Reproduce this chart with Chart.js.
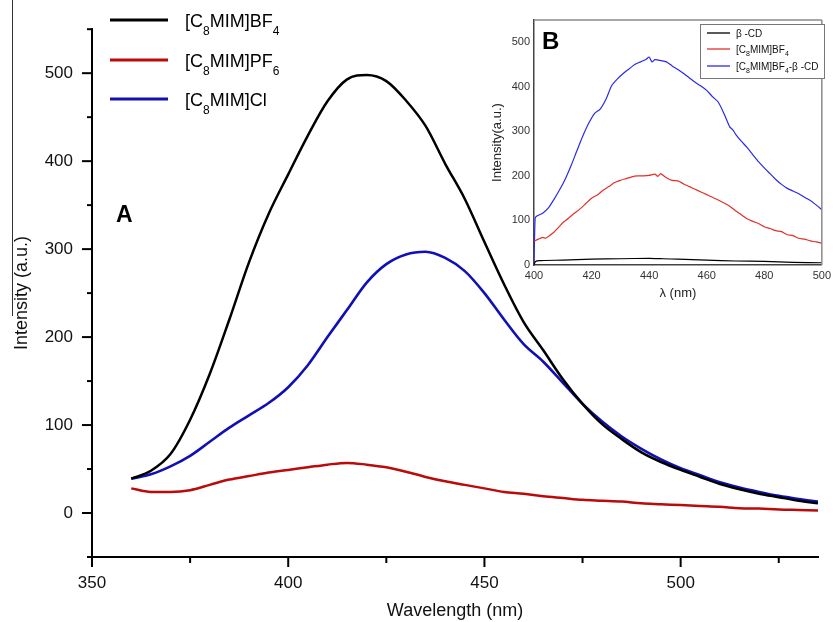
<!DOCTYPE html>
<html><head><meta charset="utf-8">
<script src="https://cdn.jsdelivr.net/npm/chart.js@4.4.1/dist/chart.umd.min.js"></script>
<style>
html,body{margin:0;padding:0;background:#fff;}
#wrap{position:relative;width:835px;height:622px;overflow:hidden;background:#fff;}
#main{position:absolute;left:0;top:0;}
#inset{position:absolute;left:480px;top:0;}
</style></head><body>
<div id="wrap"><canvas id="main" width="835" height="622"></canvas><canvas id="inset" width="355" height="305"></canvas></div>
<script>
// ---------- Main chart (A) data ----------
const wavelengths = [360,365,370,375,380,385,390,395,400,405,410,415,420,425,430,435,440,445,450,455,460,465,470,475,480,485,490,495,500,505,510,515,520,525,530,535];
const bf4Values = [39,48,67,106,158,220,285,340,385,429,468,493,498,491,469,440,397,357,308,260,217,185,152,124,101,84,69,58,49,41,33,27,22,18,14,11];
const pf6Values = [28,24,24,26,32,38,42,46,49,52,55,57,55,52,47,41,36,32,28,24,22,19,17,15,14,13,11,10,9,8,7,5.5,5,4,3.5,3];
const clValues  = [39,44,53,65,81,97,111,125,143,168,200,231,262,283,294,297,290,275,250,220,192,172,148,124,104,87,73,61,51,43,35,29,24,19.5,16,13];
const mainSeriesNames = ['[C_{8}MIM]BF_{4}','[C_{8}MIM]PF_{6}','[C_{8}MIM]Cl'];
const mainColors = ['#000000','#bb0a0a','#1010b4'];
const xMajorTicks = [350,400,450,500];
const xMinorTicks = [375,425,475,525];
const yMajorTicks = [0,100,200,300,400,500];
const yMinorTicks = [-50,50,150,250,350,450,550];

// ---------- Inset chart (B) data ----------
const insetBlueX = [400,400.4,401,403,405,407,409,411,413,415,417,419,421,423,425,427,429,431,433,435,437,439,440,441,442,444,446,448,450,452,454,456,458,460,462,464,466,468,469,470,472,474,476,478,480,482,484,486,488,490,492,494,496,498,500];
const insetBlueY = [0,105,110,116,128,148,170,195,225,258,290,318,340,350,372,403,418,430,440,450,456,462,467,456,461,459,456,447,439,430,420,410,402,392,378,366,340,310,304,294,278,264,248,232,218,205,192,181,172,166,160,152,145,135,124];
const insetRedX = [400,401.5,403,404,405,407,409,410,412,414,416,418,420,422,424,426,428,430,432,434,436,438,440,442,443,444,446,448,450,452,454,456,458,460,462,464,466,468,470,472,474,476,478,480,482,484,486,488,490,492,494,496,498,500];
const insetRedY = [53,58,62,60,64,74,88,95,105,116,126,138,150,157,168,176,185,190,194,198,200,200,201,204,199,205,196,190,189,182,176,170,164,158,152,146,139,132,122,113,104,98,93,86,82,77,75,68,66,60,58,54,52,49];
const insetBlackX = [400,400.5,402,410,420,430,440,445,450,460,470,480,490,500];
const insetBlackY = [0,8,10,11,13,14,15,14,13,11,9,8,6,5];
const insetSeriesNames = ['β -CD','[C_{8}MIM]BF_{4}','[C_{8}MIM]BF_{4}-β -CD'];
const insetColors = ['#000000','#e0302a','#2a2ae6'];
const insetXTicks = [400,420,440,460,480,500];
const insetYTicks = [0,100,200,300,400,500];

const FONT = '"Liberation Sans", Arial, sans-serif';
Chart.defaults.font.family = FONT;

function pairs(xs, ys){ return xs.map((x,i)=>({x:x, y:ys[i]})); }

// draw text with _{sub} subscripts
function drawSubText(ctx, text, x, y, size, subSize, subDrop, color){
  const parts = [];
  const re = /_\{([^}]*)\}/g; let last = 0, m;
  while ((m = re.exec(text))){ if (m.index>last) parts.push([text.slice(last,m.index),0]); parts.push([m[1],1]); last = re.lastIndex; }
  if (last < text.length) parts.push([text.slice(last),0]);
  ctx.fillStyle = color; ctx.textBaseline = 'alphabetic'; ctx.textAlign = 'left';
  let cx = x;
  for (const [t,sub] of parts){
    ctx.font = (sub?subSize:size) + 'px ' + FONT;
    ctx.fillText(t, cx, sub ? y + subDrop : y);
    cx += ctx.measureText(t).width;
  }
}

const mainDeco = {
  id:'mainDeco',
  afterDraw(chart){
    const ctx = chart.ctx, xs = chart.scales.x, ys = chart.scales.y, ca = chart.chartArea;
    ctx.save();
    ctx.strokeStyle = '#000'; ctx.lineWidth = 2; ctx.lineCap = 'butt';
    const ln = (x1,y1,x2,y2)=>{ctx.beginPath();ctx.moveTo(x1,y1);ctx.lineTo(x2,y2);ctx.stroke();};
    yMajorTicks.forEach(v=>{const y=ys.getPixelForValue(v); ln(ca.left-10,y,ca.left+1,y);});
    yMinorTicks.forEach(v=>{const y=ys.getPixelForValue(v); ln(ca.left-5,y,ca.left+1,y);});
    xMajorTicks.forEach(v=>{const x=xs.getPixelForValue(v); ln(x,ca.bottom-1,x,ca.bottom+10);});
    xMinorTicks.forEach(v=>{const x=xs.getPixelForValue(v); ln(x,ca.bottom-1,x,ca.bottom+6);});
    // thin stray rule next to the y title (present in the original figure)
    ctx.lineWidth = 1; ctx.strokeStyle = '#333'; ln(12.5,0,12.5,316);
    // panel letter
    ctx.fillStyle = '#000'; ctx.font = 'bold 23px ' + FONT; ctx.textBaseline='alphabetic'; ctx.textAlign='left';
    ctx.fillText('A', 116, 222);
    // legend
    const rows = [20,60,99];
    chart.data.datasets.forEach((ds,i)=>{
      ctx.strokeStyle = ds.borderColor; ctx.lineWidth = 3;
      ln(110, rows[i], 168, rows[i]);
      drawSubText(ctx, mainSeriesNames[i], 185, rows[i]+6.5, 18, 12, 8, '#000');
    });
    ctx.restore();
  }
};

new Chart(document.getElementById('main'), {
  type:'line',
  data:{ datasets:[
    {label:'BF4', data:pairs(wavelengths,bf4Values), borderColor:mainColors[0], borderWidth:2.5, order:1},
    {label:'PF6', data:pairs(wavelengths,pf6Values), borderColor:mainColors[1], borderWidth:2.5, order:3},
    {label:'Cl',  data:pairs(wavelengths,clValues),  borderColor:mainColors[2], borderWidth:2.6, order:2}
  ]},
  options:{
    responsive:false, animation:false, devicePixelRatio:1,
    elements:{point:{radius:0}, line:{cubicInterpolationMode:'monotone', fill:false}},
    layout:{padding:{top:19,right:17,left:0,bottom:0}},
    plugins:{legend:{display:false}, tooltip:{enabled:false}},
    scales:{
      x:{type:'linear', position:'bottom', min:350, max:535,
        afterFit:s=>{s.height=65;},
        afterBuildTicks:s=>{s.ticks = xMajorTicks.map(v=>({value:v}));},
        grid:{display:false, drawTicks:false},
        border:{display:true, color:'#000', width:2},
        ticks:{font:{size:17}, color:'#111', padding:16, maxRotation:0, autoSkip:false},
        title:{display:true, text:'Wavelength (nm)', font:{size:18}, color:'#111', padding:{top:0,bottom:0}}
      },
      y:{type:'linear', min:-50, max:550,
        afterFit:s=>{s.width=92;},
        afterBuildTicks:s=>{s.ticks = yMajorTicks.map(v=>({value:v}));},
        grid:{display:false, drawTicks:false},
        border:{display:true, color:'#000', width:2},
        ticks:{font:{size:17}, color:'#111', padding:19},
        title:{display:true, text:'Intensity (a.u.)', font:{size:18}, color:'#111', padding:{top:11,bottom:0}}
      }
    }
  },
  plugins:[mainDeco]
});

const insetDeco = {
  id:'insetDeco',
  afterDraw(chart){
    const ctx = chart.ctx, ca = chart.chartArea;
    ctx.save();
    const ln = (x1,y1,x2,y2)=>{ctx.beginPath();ctx.moveTo(x1,y1);ctx.lineTo(x2,y2);ctx.stroke();};
    ctx.strokeStyle = '#8a8a8a'; ctx.lineWidth = 1.5;
    ln(ca.left, ca.top, ca.right, ca.top);
    ln(ca.right, ca.top, ca.right, ca.bottom);
    ctx.fillStyle='#000'; ctx.font='bold 24px ' + FONT; ctx.textBaseline='alphabetic'; ctx.textAlign='left';
    ctx.fillText('B', 62, 49);
    // legend box
    const bx = 220, by = 24, bw = 124, bh = 54;
    ctx.fillStyle='#fff'; ctx.fillRect(bx,by,bw,bh);
    ctx.strokeStyle='#777'; ctx.lineWidth=1; ctx.strokeRect(bx+0.5,by+0.5,bw,bh);
    const rows = [33,49,66];
    chart.data.datasets.forEach((ds,i)=>{
      ctx.strokeStyle = ds.borderColor; ctx.lineWidth = 1.3;
      ln(bx+7, rows[i], bx+30, rows[i]);
      drawSubText(ctx, insetSeriesNames[i], bx+36, rows[i]+3.5, 10, 7, 3, '#111');
    });
    ctx.restore();
  }
};

new Chart(document.getElementById('inset'), {
  type:'line',
  data:{ datasets:[
    {label:'b-CD', data:pairs(insetBlackX,insetBlackY), borderColor:insetColors[0], borderWidth:1.2},
    {label:'BF4', data:pairs(insetRedX,insetRedY), borderColor:insetColors[1], borderWidth:1.2},
    {label:'BF4-b-CD', data:pairs(insetBlueX,insetBlueY), borderColor:insetColors[2], borderWidth:1.2}
  ]},
  options:{
    responsive:false, animation:false, devicePixelRatio:1,
    elements:{point:{radius:0}, line:{tension:0.2, fill:false}},
    layout:{padding:{top:20,right:9,left:0,bottom:0}},
    plugins:{legend:{display:false}, tooltip:{enabled:false}},
    scales:{
      x:{type:'linear', min:400, max:500,
        afterFit:s=>{s.height=40;},
        afterBuildTicks:s=>{s.ticks = insetXTicks.map(v=>({value:v}));},
        grid:{display:false, drawTicks:false},
        border:{display:true, color:'#444', width:1.5},
        ticks:{font:{size:11}, color:'#333', padding:4, maxRotation:0, autoSkip:false},
        title:{display:true, text:'λ (nm)', font:{size:13}, color:'#222', padding:{top:0,bottom:4}}
      },
      y:{type:'linear', min:0, max:550,
        afterFit:s=>{s.width=54;},
        afterBuildTicks:s=>{s.ticks = insetYTicks.map(v=>({value:v}));},
        grid:{display:false, drawTicks:false},
        border:{display:true, color:'#444', width:1.5},
        ticks:{font:{size:11}, color:'#333', padding:4},
        title:{display:true, text:'Intensity(a.u.)', font:{size:13}, color:'#222', padding:{top:10,bottom:0}}
      }
    }
  },
  plugins:[insetDeco]
});
</script>
</body></html>
